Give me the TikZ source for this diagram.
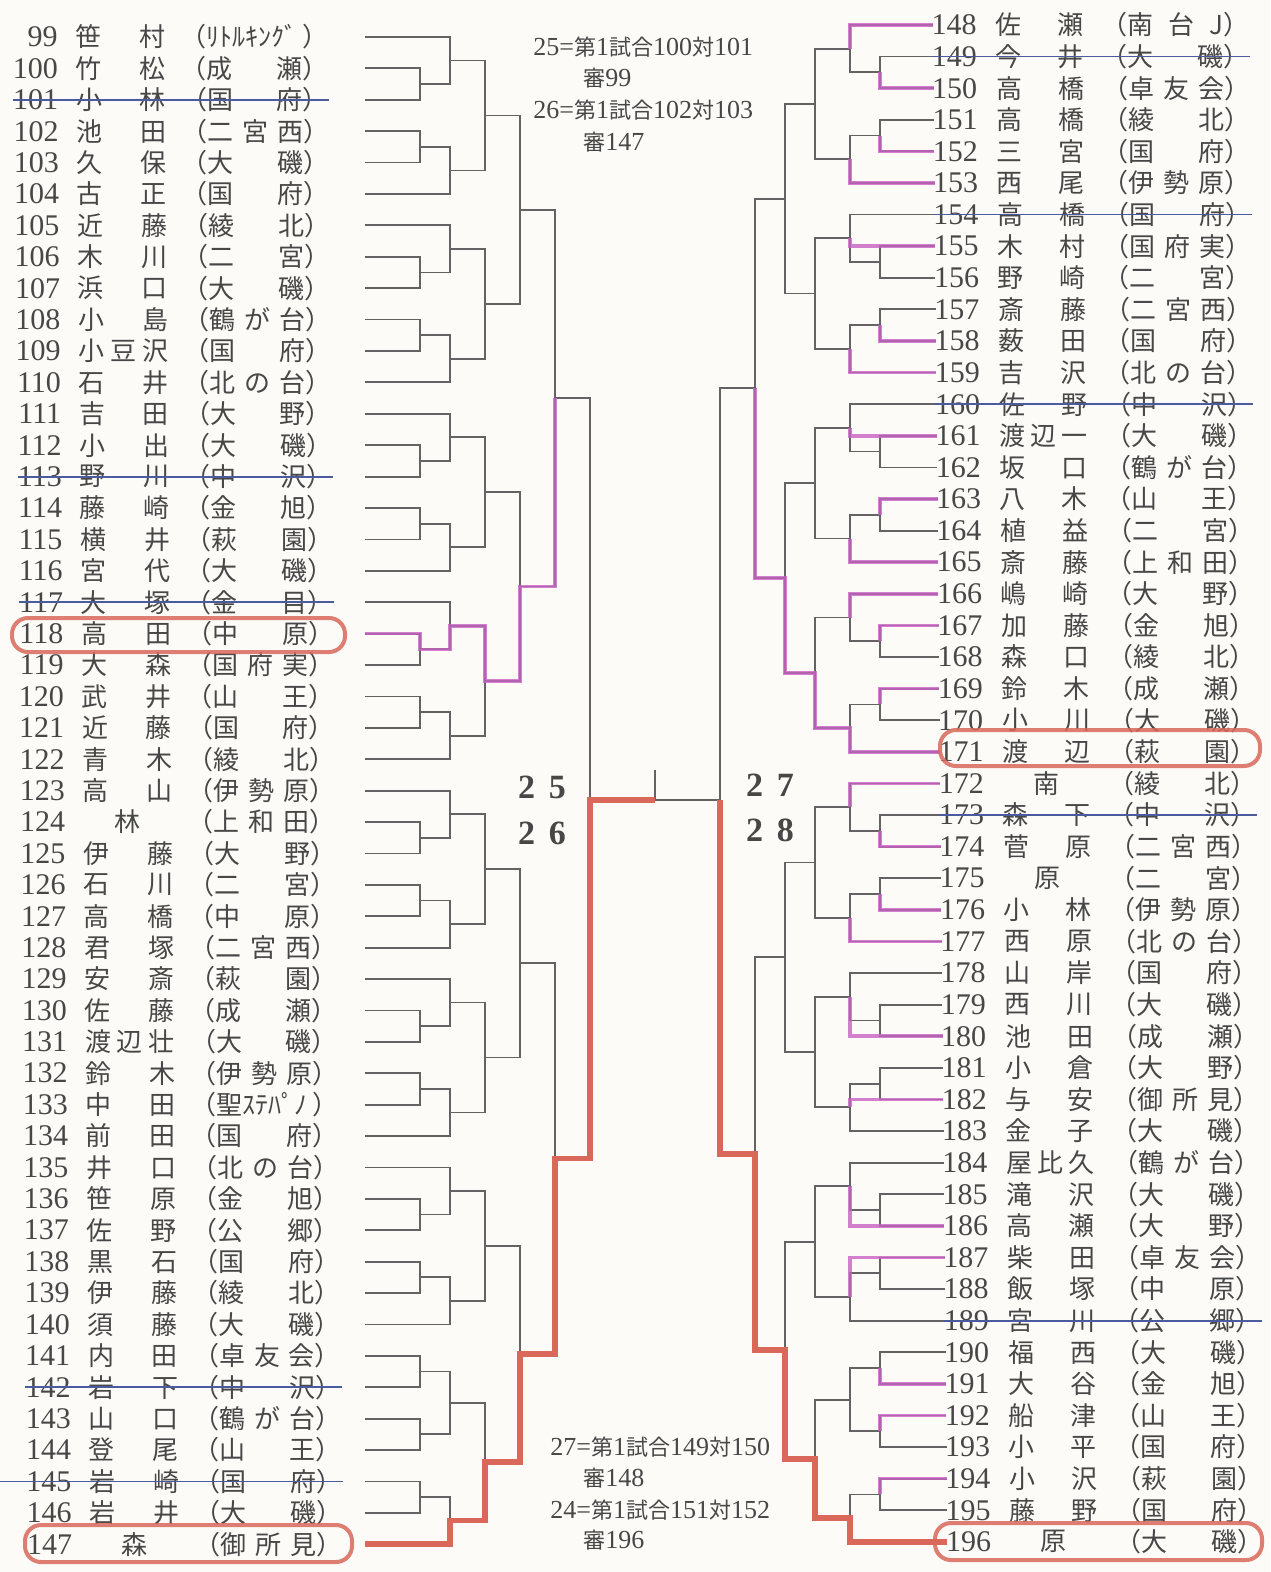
\documentclass[tikz,border=0pt]{standalone}
\usepackage{fontspec}
\setmainfont{Liberation Serif}
\newfontfamily\jp{Noto Sans CJK JP}
\usetikzlibrary{calc,positioning}
\definecolor{ink}{HTML}{474747}
\definecolor{pen}{HTML}{C862C4}
\definecolor{redpen}{HTML}{D9685A}
\definecolor{bluepen}{HTML}{4B5C9E}
\definecolor{paper}{HTML}{FCFBF8}
\newcommand\jj[1]{{\jp\fontsize{11}{11}\selectfont #1}}
% one entry of the left list
\newcommand\lrow[3]{%
  \pgfmathsetmacro\ry{37+31.4*(#1-99)}%
  \pgfmathsetmacro\rx{0.3*(#1-99)}%
  \node[num,anchor=east] (n#1) at (58+\rx,\ry) {#1};
  \node[jname,anchor=west] (a#1) at (75+\rx,\ry) {\hbox to 45pt{\spaceskip=0pt plus 1fil\relax #2}};
  \node[jname,anchor=west] (s#1) at (180+\rx,\ry) {（\hbox to 48pt{\spaceskip=0pt plus 1fil\relax #3}）};
  \coordinate (p#1) at (365,\ry);}
% one entry of the right list
\newcommand\rrow[3]{%
  \pgfmathsetmacro\ry{25+31.6*(#1-148)}%
  \pgfmathsetmacro\rx{0.3*(#1-148)}%
  \node[num,anchor=east] (n#1) at (977+\rx,\ry) {#1};
  \node[jname,anchor=west] (a#1) at (995+\rx,\ry) {\hbox to 44pt{\spaceskip=0pt plus 1fil\relax #2}};
  \node[jname,anchor=west] (s#1) at (1101+\rx,\ry) {（\hbox to 48pt{\spaceskip=0pt plus 1fil\relax #3}）};
  \coordinate (p#1) at (933+\rx,\ry);}
% bracket pieces
\newcommand\match[4]{%
  \path ($(#2)!.5!(#3)$) coordinate (tmp);
  \coordinate (#1) at (tmp -| #4,0);
  \draw[line] (#2) -| (#1) |- (#3);}
\newcommand\gT[4]{\match{#1x}{#3}{#4}{\cA}\match{#1}{#2}{#1x}{\cB}}
\newcommand\gB[4]{\match{#1x}{#2}{#3}{\cA}\match{#1}{#1x}{#4}{\cB}}
\newcommand\gF[5]{\match{#1x}{#2}{#3}{\cA}\match{#1y}{#4}{#5}{\cA}\match{#1}{#1x}{#1y}{\cB}}

\begin{document}
\begin{tikzpicture}[x=0.5pt,y=-0.5pt,
 num/.style={font=\fontsize{15}{15}\selectfont,text=ink,inner sep=0pt},
 jname/.style={font=\jp\fontsize{13}{13}\selectfont,text=ink,inner sep=0pt},
 memo/.style={font=\fontsize{13}{13}\selectfont,text=ink,inner sep=0pt},
 court/.style={font=\bfseries\fontsize{17}{17}\selectfont,text=ink,inner sep=0pt},
 line/.style={draw=ink!85,line width=0.9pt},
 pinkpath/.style={draw=pen,line width=1.8pt,opacity=0.8},
 redpath/.style={draw=redpen,line width=2.8pt},
 strike/.style={draw=bluepen,line width=0.9pt},
 ring/.style={draw=redpen,line width=2pt,rounded corners=8pt,opacity=0.85}
]
\useasboundingbox (0,0) rectangle (1270,1572);
\fill[paper] (0,0) rectangle (1270,1572);

% left list
\lrow{99}{笹 村}{ﾘﾄﾙｷﾝｸﾞ}
\lrow{100}{竹 松}{成 瀬}
\lrow{101}{小 林}{国 府}
\lrow{102}{池 田}{二 宮 西}
\lrow{103}{久 保}{大 磯}
\lrow{104}{古 正}{国 府}
\lrow{105}{近 藤}{綾 北}
\lrow{106}{木 川}{二 宮}
\lrow{107}{浜 口}{大 磯}
\lrow{108}{小 島}{鶴 が 台}
\lrow{109}{小 豆 沢}{国 府}
\lrow{110}{石 井}{北 の 台}
\lrow{111}{吉 田}{大 野}
\lrow{112}{小 出}{大 磯}
\lrow{113}{野 川}{中 沢}
\lrow{114}{藤 崎}{金 旭}
\lrow{115}{横 井}{萩 園}
\lrow{116}{宮 代}{大 磯}
\lrow{117}{大 塚}{金 目}
\lrow{118}{高 田}{中 原}
\lrow{119}{大 森}{国 府 実}
\lrow{120}{武 井}{山 王}
\lrow{121}{近 藤}{国 府}
\lrow{122}{青 木}{綾 北}
\lrow{123}{高 山}{伊 勢 原}
\lrow{124}{\hfil 林\hfil}{上 和 田}
\lrow{125}{伊 藤}{大 野}
\lrow{126}{石 川}{二 宮}
\lrow{127}{高 橋}{中 原}
\lrow{128}{君 塚}{二 宮 西}
\lrow{129}{安 斎}{萩 園}
\lrow{130}{佐 藤}{成 瀬}
\lrow{131}{渡 辺 壮}{大 磯}
\lrow{132}{鈴 木}{伊 勢 原}
\lrow{133}{中 田}{聖ｽﾃﾊﾟﾉ}
\lrow{134}{前 田}{国 府}
\lrow{135}{井 口}{北 の 台}
\lrow{136}{笹 原}{金 旭}
\lrow{137}{佐 野}{公 郷}
\lrow{138}{黒 石}{国 府}
\lrow{139}{伊 藤}{綾 北}
\lrow{140}{須 藤}{大 磯}
\lrow{141}{内 田}{卓 友 会}
\lrow{142}{岩 下}{中 沢}
\lrow{143}{山 口}{鶴 が 台}
\lrow{144}{登 尾}{山 王}
\lrow{145}{岩 崎}{国 府}
\lrow{146}{岩 井}{大 磯}
\lrow{147}{\hfil 森\hfil}{御 所 見}

% right list
\rrow{148}{佐 瀬}{南 台 J}
\rrow{149}{今 井}{大 磯}
\rrow{150}{高 橋}{卓 友 会}
\rrow{151}{高 橋}{綾 北}
\rrow{152}{三 宮}{国 府}
\rrow{153}{西 尾}{伊 勢 原}
\rrow{154}{高 橋}{国 府}
\rrow{155}{木 村}{国 府 実}
\rrow{156}{野 崎}{二 宮}
\rrow{157}{斎 藤}{二 宮 西}
\rrow{158}{薮 田}{国 府}
\rrow{159}{吉 沢}{北 の 台}
\rrow{160}{佐 野}{中 沢}
\rrow{161}{渡 辺 一}{大 磯}
\rrow{162}{坂 口}{鶴 が 台}
\rrow{163}{八 木}{山 王}
\rrow{164}{植 益}{二 宮}
\rrow{165}{斎 藤}{上 和 田}
\rrow{166}{嶋 崎}{大 野}
\rrow{167}{加 藤}{金 旭}
\rrow{168}{森 口}{綾 北}
\rrow{169}{鈴 木}{成 瀬}
\rrow{170}{小 川}{大 磯}
\rrow{171}{渡 辺}{萩 園}
\rrow{172}{\hfil 南\hfil}{綾 北}
\rrow{173}{森 下}{中 沢}
\rrow{174}{菅 原}{二 宮 西}
\rrow{175}{\hfil 原\hfil}{二 宮}
\rrow{176}{小 林}{伊 勢 原}
\rrow{177}{西 原}{北 の 台}
\rrow{178}{山 岸}{国 府}
\rrow{179}{西 川}{大 磯}
\rrow{180}{池 田}{成 瀬}
\rrow{181}{小 倉}{大 野}
\rrow{182}{与 安}{御 所 見}
\rrow{183}{金 子}{大 磯}
\rrow{184}{屋 比 久}{鶴 が 台}
\rrow{185}{滝 沢}{大 磯}
\rrow{186}{高 瀬}{大 野}
\rrow{187}{柴 田}{卓 友 会}
\rrow{188}{飯 塚}{中 原}
\rrow{189}{宮 川}{公 郷}
\rrow{190}{福 西}{大 磯}
\rrow{191}{大 谷}{金 旭}
\rrow{192}{船 津}{山 王}
\rrow{193}{小 平}{国 府}
\rrow{194}{小 沢}{萩 園}
\rrow{195}{藤 野}{国 府}
\rrow{196}{\hfil 原\hfil}{大 磯}

% left bracket
\def\cA{420}\def\cB{450}\def\cC{485}\def\cD{520}\def\cE{555}
\gT{Lg1}{p99}{p100}{p101}
\gB{Lg2}{p102}{p103}{p104}
\gT{Lg3}{p105}{p106}{p107}
\gB{Lg4}{p108}{p109}{p110}
\gT{Lg5}{p111}{p112}{p113}
\gB{Lg6}{p114}{p115}{p116}
\gT{Lg7}{p117}{p118}{p119}
\gB{Lg8}{p120}{p121}{p122}
\gT{Lg9}{p123}{p124}{p125}
\gB{Lg10}{p126}{p127}{p128}
\gT{Lg11}{p129}{p130}{p131}
\gB{Lg12}{p132}{p133}{p134}
\gT{Lg13}{p135}{p136}{p137}
\gB{Lg14}{p138}{p139}{p140}
\gF{Lg15}{p141}{p142}{p143}{p144}
\gB{Lg16}{p145}{p146}{p147}
\match{Le1}{Lg1}{Lg2}{\cC}
\match{Le2}{Lg3}{Lg4}{\cC}
\match{Le3}{Lg5}{Lg6}{\cC}
\match{Le4}{Lg7}{Lg8}{\cC}
\match{Le5}{Lg9}{Lg10}{\cC}
\match{Le6}{Lg11}{Lg12}{\cC}
\match{Le7}{Lg13}{Lg14}{\cC}
\match{Le8}{Lg15}{Lg16}{\cC}
\match{Lq1}{Le1}{Le2}{\cD}
\match{Lq2}{Le3}{Le4}{\cD}
\match{Lq3}{Le5}{Le6}{\cD}
\match{Lq4}{Le7}{Le8}{\cD}
\match{Lk1}{Lq1}{Lq2}{\cE}
\match{Lk2}{Lq3}{Lq4}{\cE}
\coordinate (Lh) at (590,800);
\draw[line] (Lk1) -| (Lh) |- (Lk2);

% right bracket
\def\cA{880}\def\cB{850}\def\cC{815}\def\cD{785}\def\cE{755}
\gT{Rg1}{p148}{p149}{p150}
\gB{Rg2}{p151}{p152}{p153}
\gT{Rg3}{p154}{p155}{p156}
\gB{Rg4}{p157}{p158}{p159}
\gT{Rg5}{p160}{p161}{p162}
\gB{Rg6}{p163}{p164}{p165}
\gT{Rg7}{p166}{p167}{p168}
\gB{Rg8}{p169}{p170}{p171}
\gT{Rg9}{p172}{p173}{p174}
\gB{Rg10}{p175}{p176}{p177}
\gT{Rg11}{p178}{p179}{p180}
\gB{Rg12}{p181}{p182}{p183}
\gT{Rg13}{p184}{p185}{p186}
\gB{Rg14}{p187}{p188}{p189}
\gF{Rg15}{p190}{p191}{p192}{p193}
\gB{Rg16}{p194}{p195}{p196}
\match{Re1}{Rg1}{Rg2}{\cC}
\match{Re2}{Rg3}{Rg4}{\cC}
\match{Re3}{Rg5}{Rg6}{\cC}
\match{Re4}{Rg7}{Rg8}{\cC}
\match{Re5}{Rg9}{Rg10}{\cC}
\match{Re6}{Rg11}{Rg12}{\cC}
\match{Re7}{Rg13}{Rg14}{\cC}
\match{Re8}{Rg15}{Rg16}{\cC}
\match{Rq1}{Re1}{Re2}{\cD}
\match{Rq2}{Re3}{Re4}{\cD}
\match{Rq3}{Re5}{Re6}{\cD}
\match{Rq4}{Re7}{Re8}{\cD}
\match{Rk1}{Rq1}{Rq2}{\cE}
\match{Rk2}{Rq3}{Rq4}{\cE}
\coordinate (Rh) at (720,800);
\draw[line] (Rk1) -| (Rh) |- (Rk2);

% final
\coordinate (cmid) at (655,800);
\coordinate (ctop) at (655,770);
\draw[line] (Lh) -- (cmid) -- (Rh);
\draw[line] (cmid) -- (ctop);

% winners of the first matches
\foreach \a/\m in {p150/Rg1x,p152/Rg2x,p155/Rg3,p158/Rg4x,p161/Rg5,p163/Rg6x,p167/Rg7x,p169/Rg8x,
  p174/Rg9x,p176/Rg10x,p180/Rg11,p182/Rg12,p186/Rg13,p187/Rg14,p191/Rg15x,p192/Rg15y,p194/Rg16x,
  p148/Rg1,p153/Rg2,p159/Rg4,p165/Rg6,p166/Rg7,p172/Rg9,p177/Rg10}
  \draw[pinkpath] (\a) -| (\m);
\draw[pinkpath] (p118) -| (Lg7x) -| (Lg7) -| (Le4) -| (Lq2) -| (Lk1);
\draw[pinkpath] (p171) -| (Rg8) -| (Re4) -| (Rq2) -| (Rk1);
\draw[redpath] (p147) -| (Lg16) -| (Le8) -| (Lq4) -| (Lk2) -| (Lh) -- (cmid);
\draw[redpath] (p196) -| (Rg16) -| (Re8) -| (Rq4) -| (Rk2) -| (Rh);

% struck entries
\foreach \k in {101,113,117,142,149,154,160,173,189}
  \draw[strike] (n\k.west) -- (s\k.east);
\draw[strike] (n145.west -| 0,0) -- (s145.east);

% circled entries
\draw[ring] (12,618) rectangle (345,652);
\draw[ring] (25,1525) rectangle (352,1562);
\draw[ring] (940,730) rectangle (1260,766);
\draw[ring] (935,1523) rectangle (1262,1560);

% notes in the middle
\node[memo,anchor=west] (m25) at (533,47) {25=\jj{第}1\jj{試合}100\jj{対}101};
\node[memo,anchor=west] (r25) at (583,78) {\jj{審}99};
\node[memo,anchor=west] (m26) at (533,110) {26=\jj{第}1\jj{試合}102\jj{対}103};
\node[memo,anchor=west] (r26) at (583,142) {\jj{審}147};
\node[memo,anchor=west] (m27) at (550,1447) {27=\jj{第}1\jj{試合}149\jj{対}150};
\node[memo,anchor=west] (r27) at (583,1478) {\jj{審}148};
\node[memo,anchor=west] (m24) at (550,1510) {24=\jj{第}1\jj{試合}151\jj{対}152};
\node[memo,anchor=west] (r24) at (583,1540) {\jj{審}196};
\node[court] (t25) at (542,787) {2\hspace{7pt}5};
\node[court] (t26) at (542,833) {2\hspace{7pt}6};
\node[court] (t27) at (770,785) {2\hspace{7pt}7};
\node[court] (t28) at (770,830) {2\hspace{7pt}8};
\end{tikzpicture}
\end{document}
